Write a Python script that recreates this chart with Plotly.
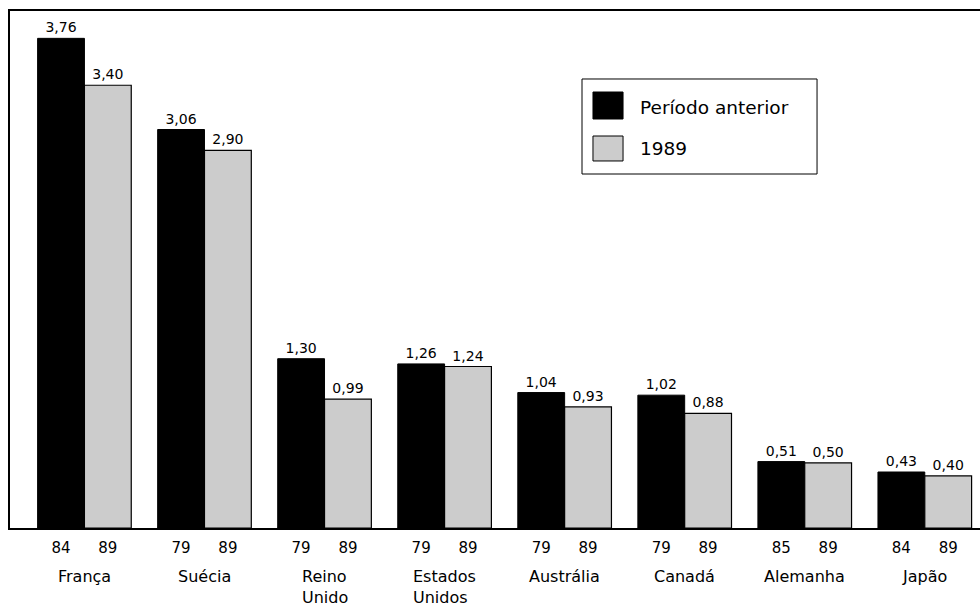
import plotly.graph_objects as go

# Per-country values: earlier period vs. 1989
countries = ["França", "Suécia", "Reino<br>Unido", "Estados<br>Unidos",
             "Austrália", "Canadá", "Alemanha", "Japão"]
prev_years = ["84", "79", "79", "79", "79", "79", "85", "84"]
last_years = ["89", "89", "89", "89", "89", "89", "89", "89"]
prev_values = [3.76, 3.06, 1.30, 1.26, 1.04, 1.02, 0.51, 0.43]
last_values = [3.40, 2.90, 0.99, 1.24, 0.93, 0.88, 0.50, 0.40]
series_names = ["Período anterior", "1989"]

FONT = "DejaVu Sans"
idx = list(range(len(countries)))
half = 0.195  # centre offset of each bar within its group


def fmt(v):
    return f"{v:.2f}".replace(".", ",")


fig = go.Figure()
fig.add_trace(go.Bar(
    x=idx, y=prev_values, name=series_names[0],
    marker=dict(color="#000000", line=dict(color="#000000", width=1)),
    text=[fmt(v) for v in prev_values], textposition="outside",
    textfont=dict(size=14, color="#000000", family=FONT),
    cliponaxis=False, showlegend=False,
))
fig.add_trace(go.Bar(
    x=idx, y=last_values, name=series_names[1],
    marker=dict(color="#cccccc", line=dict(color="#000000", width=1.2)),
    text=[fmt(v) for v in last_values], textposition="outside",
    textfont=dict(size=14, color="#000000", family=FONT),
    cliponaxis=False, showlegend=False,
))

# Year labels under each bar
tickvals, ticktext = [], []
for i, (a, b) in enumerate(zip(prev_years, last_years)):
    tickvals += [i - half, i + half]
    ticktext += [a, b]

# Country names under each group
for i, name in enumerate(countries):
    fig.add_annotation(
        x=i, y=-0.072, xref="x", yref="paper", text=name,
        showarrow=False, xanchor="center", yanchor="top", align="left",
        font=dict(size=16, color="#000000", family=FONT),
    )

# Custom legend box with large swatches
fig.add_shape(type="rect", xref="paper", yref="paper",
              x0=0.5897, x1=0.8320, y0=0.6847, y1=0.8685,
              line=dict(color="#000000", width=1), fillcolor="#ffffff")
fig.add_shape(type="rect", xref="paper", yref="paper",
              x0=0.601, x1=0.632, y0=0.7911, y1=0.8433,
              line=dict(color="#000000", width=1), fillcolor="#000000")
fig.add_shape(type="rect", xref="paper", yref="paper",
              x0=0.601, x1=0.632, y0=0.7099, y1=0.7582,
              line=dict(color="#000000", width=1), fillcolor="#cccccc")
for name, yc in zip(series_names, [0.8124, 0.7331]):
    fig.add_annotation(x=0.647, y=yc, xref="paper", yref="paper", text=name,
                       showarrow=False, xanchor="left", yanchor="middle",
                       font=dict(size=18.5, color="#000000", family=FONT))

fig.update_layout(
    width=980, height=606,
    margin=dict(l=10, r=0, t=11, b=78),
    paper_bgcolor="#ffffff", plot_bgcolor="#ffffff",
    barmode="group", bargap=0.22, bargroupgap=0,
    xaxis=dict(range=[-0.62, 7.46], tickvals=tickvals, ticktext=ticktext,
               showline=True, linecolor="#000000", linewidth=1.5, mirror=True,
               ticks="", showgrid=False, zeroline=False, ticklabelstandoff=5,
               tickfont=dict(size=15, color="#000000", family=FONT)),
    yaxis=dict(range=[0, 3.97], showline=True, linecolor="#000000", linewidth=1.5,
               showticklabels=False, ticks="", showgrid=False, zeroline=False),
    font=dict(family=FONT, color="#000000"),
)

fig.write_html("out.html")
